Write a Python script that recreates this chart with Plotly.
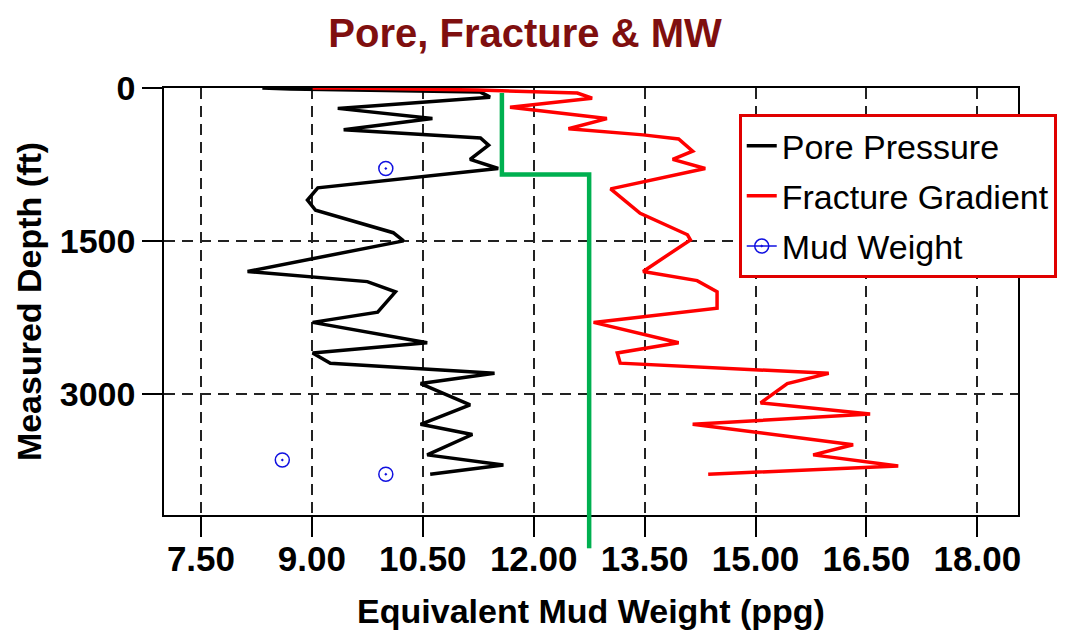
import plotly.graph_objects as go

# ---- data ----
pore_depth = [0, 10, 40, 90, 200, 300, 410, 490, 560, 700, 790, 980, 1100, 1200,
              1420, 1500, 1800, 1900, 2000, 2200, 2300, 2500, 2600, 2700, 2800,
              2900, 3110, 3300, 3400, 3600, 3700, 3790]
pore_ppg = [8.33, 8.71, 11.28, 11.41, 9.35, 10.63, 9.43, 11.28, 11.39, 11.14, 11.52,
            9.08, 8.94, 9.05, 10.10, 10.24, 8.13, 9.75, 10.13, 9.89, 9.01, 10.56,
            9.01, 9.25, 11.47, 10.47, 11.14, 10.47, 11.17, 10.56, 11.59, 10.60]

frac_depth = [0, 0, 20, 50, 100, 190, 300, 400, 460, 500, 620, 700, 790, 990, 1230,
              1440, 1490, 1800, 1890, 2000, 2160, 2300, 2500, 2600, 2700, 2800, 2900,
              3090, 3200, 3300, 3500, 3600, 3710, 3790]
frac_ppg = [9.01, 9.48, 11.24, 12.59, 12.79, 11.68, 12.99, 12.47, 13.48, 13.96, 14.15,
            13.88, 14.32, 13.04, 13.44, 14.08, 14.12, 13.48, 14.21, 14.48, 14.48, 12.81,
            13.96, 13.13, 13.17, 15.99, 15.43, 15.07, 16.55, 14.15, 16.32, 15.78,
            16.93, 14.36]

mw_depth = [790, 3650, 3790]
mw_ppg = [10.0, 8.6, 10.0]

design_depth = [50, 850, 850, 4190]
design_ppg = [11.57, 11.57, 12.75, 12.75]

x_ticks = [7.5, 9.0, 10.5, 12.0, 13.5, 15.0, 16.5, 18.0]
y_ticks = [0, 1500, 3000]

FONT = "Liberation Sans, Arial, sans-serif"
GREEN = "#00B050"

# mud weight points as separate markers (gaps so no connecting line drawn)
mw_x, mw_y = [], []
for xv, yv in zip(mw_ppg, mw_depth):
    mw_x += [xv, None]
    mw_y += [yv, None]

fig = go.Figure()
fig.add_trace(go.Scatter(x=pore_ppg, y=pore_depth, mode="lines", name="Pore Pressure",
                         legendgroup="a", line=dict(color="black", width=3.5)))
fig.add_trace(go.Scatter(x=frac_ppg, y=frac_depth, mode="lines", name="Fracture Gradient",
                         legendgroup="b", line=dict(color="#FF0000", width=3.5)))
fig.add_trace(go.Scatter(x=mw_x, y=mw_y, mode="lines+markers", name="Mud Weight",
                         legendgroup="c", connectgaps=False,
                         line=dict(color="#1010E0", width=1.5),
                         marker=dict(symbol="circle-open-dot", size=14, color="#1010E0",
                                     line=dict(width=1.5))))
fig.add_trace(go.Scatter(x=design_ppg, y=design_depth, mode="lines", showlegend=False,
                         line=dict(color=GREEN, width=4.5)))

# green line continues below the axis in the reference
fig.add_shape(type="line", xref="x", yref="paper",
              x0=design_ppg[-1], x1=design_ppg[-1], y0=0, y1=-0.078,
              line=dict(color=GREEN, width=4.5))

# the page body adds an 8px offset, so the figure is 8px smaller on each side
fig.update_layout(
    width=1058, height=622,
    margin=dict(l=156, r=48, t=80, b=115, autoexpand=False),
    paper_bgcolor="white", plot_bgcolor="white",
    font=dict(family=FONT, color="black"),
    title=dict(text="Pore, Fracture & MW", xref="container", x=0.4887, xanchor="center",
               yref="container", y=0.96, yanchor="middle", automargin=False,
               font=dict(size=40, color="#7F0F0F", weight="bold", family=FONT)),
    legend=dict(x=0.673, y=0.939, xanchor="left", yanchor="top",
                bordercolor="#E00000", borderwidth=3, bgcolor="white",
                font=dict(size=34, family=FONT, color="black"),
                tracegroupgap=3, itemwidth=30),
    showlegend=True,
)

fig.update_xaxes(
    range=[7.0, 18.55], tickvals=x_ticks, tickformat=".2f", automargin=False,
    ticks="outside", ticklen=20, tickwidth=1.5, tickcolor="black",
    ticklabelstandoff=-8,
    showline=True, linecolor="black", linewidth=1.5, mirror=True,
    showgrid=True, gridcolor="#222222", gridwidth=1.5, griddash="11px,7px",
    zeroline=False,
    tickfont=dict(size=35, weight="bold", family=FONT, color="black"),
    title=dict(text="Equivalent Mud Weight (ppg)", standoff=32,
               font=dict(size=34, weight="bold", family=FONT, color="black")),
)
fig.update_yaxes(
    range=[4190, 0], tickvals=y_ticks, automargin=False,
    ticks="outside", ticklen=20, tickwidth=1.5, tickcolor="black",
    showline=True, linecolor="black", linewidth=1.5, mirror=True,
    showgrid=True, gridcolor="#222222", gridwidth=1.5, griddash="11px,7px",
    zeroline=False,
    tickfont=dict(size=34, weight="bold", family=FONT, color="black"),
    title=dict(text="Measured Depth (ft)", standoff=8,
               font=dict(size=34, weight="bold", family=FONT, color="black")),
)

fig.write_html("out.html")
